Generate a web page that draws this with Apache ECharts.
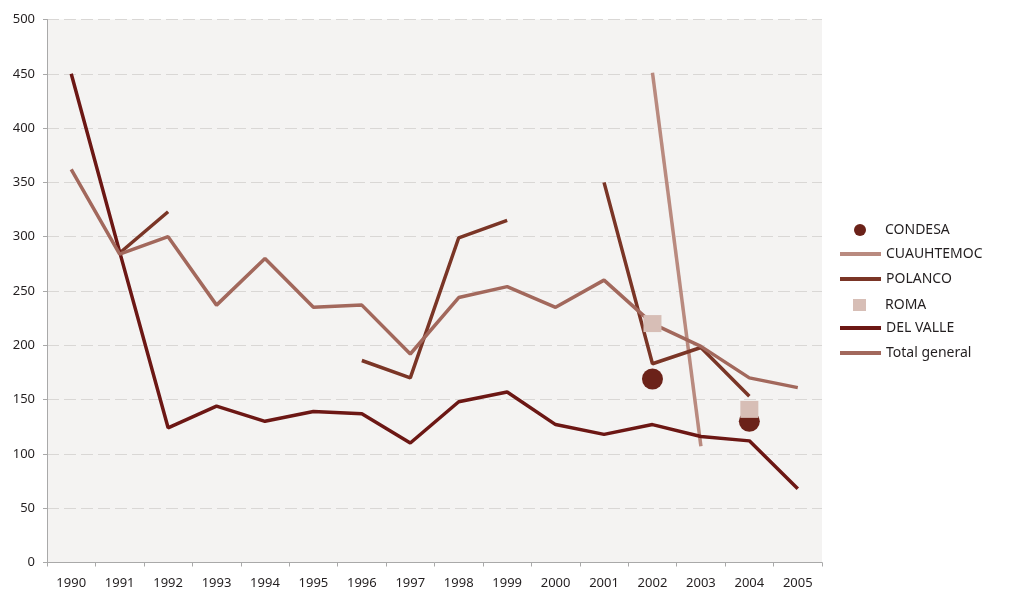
<!DOCTYPE html>
<html>
<head>
<meta charset="utf-8">
<script src="https://cdn.jsdelivr.net/npm/echarts@6/dist/echarts.min.js"></script>
<style>
html,body{margin:0;padding:0;background:#fff;}
#c{width:1024px;height:592px;}
</style>
</head>
<body>
<div id="c"></div>
<script>
var years = ['1990','1991','1992','1993','1994','1995','1996','1997','1998','1999','2000','2001','2002','2003','2004','2005'];
var yTicks = [0, 500, 50];
var condesa    = [null,null,null,null,null,null,null,null,null,null,null,null,169,null,130,null];
var cuauhtemoc = [null,null,null,null,null,null,null,null,null,null,null,null,451,107,null,null];
var polanco    = [null,285,323,null,null,null,186,170,299,315,null,350,183,198,153,null];
var roma       = [null,null,null,null,null,null,null,null,null,null,null,null,220,null,141,null];
var delValle   = [450,286,124,144,130,139,137,110,148,157,127,118,127,116,112,68];
var totalGen   = [362,284,300,237,280,235,237,192,244,254,235,260,220,199,170,161];

function pairs(arr){
  var out=[];
  arr.forEach(function(v,i){ if(v!==null) out.push([years[i], v]); });
  return out;
}

var FONT = 'Noto Sans';
var C = {
  condesa:'#6b2219', cuauh:'#b98a7f', polanco:'#7a3526', roma:'#d7beb6', delvalle:'#6c1714', total:'#a2685c'
};

function lineLegend(name, top){
  return {
    data:[name], left:840, top:top, orient:'vertical', icon:'rect',
    itemWidth:41, itemHeight:4, itemGap:0, padding:0,
    textStyle:{fontFamily:FONT, fontSize:14, color:'#231f20', lineHeight:16}
  };
}

var chart = echarts.init(document.getElementById('c'), null, {renderer:'canvas'});
chart.setOption({
  animation:false,
  backgroundColor:'#ffffff',
  grid:{left:47, right:202, top:19.5, bottom:29.5, show:true, backgroundColor:'#f4f3f2', borderWidth:0},
  legend:[
    {data:[{name:'CONDESA', icon:'circle'}], left:854, top:222, itemWidth:12, itemHeight:12, padding:0,
     textStyle:{fontFamily:FONT, fontSize:14, color:'#231f20', lineHeight:16, padding:[0,0,0,14]}},
    lineLegend('CUAUHTEMOC', 246),
    lineLegend('POLANCO', 271),
    {data:[{name:'ROMA', icon:'rect'}], left:853, top:297, itemWidth:13, itemHeight:12, padding:0,
     textStyle:{fontFamily:FONT, fontSize:14, color:'#231f20', lineHeight:16, padding:[0,0,0,14]}},
    lineLegend('DEL VALLE', 320),
    lineLegend('Total general', 345)
  ],
  xAxis:{
    type:'category', data:years, boundaryGap:true,
    axisLine:{lineStyle:{color:'#a9a9a9', width:1}},
    axisTick:{show:true, length:4, lineStyle:{color:'#a9a9a9'}, interval:0},
    axisLabel:{interval:0, margin:14, fontFamily:FONT, fontSize:13, color:'#231f20'},
    splitLine:{show:false}
  },
  yAxis:{
    type:'value', min:yTicks[0], max:yTicks[1], interval:yTicks[2],
    axisLine:{show:true, lineStyle:{color:'#a9a9a9', width:1}},
    axisTick:{show:true, length:4, lineStyle:{color:'#a9a9a9'}},
    axisLabel:{margin:12, fontFamily:FONT, fontSize:13, color:'#231f20'},
    splitLine:{show:true, lineStyle:{color:'#d9d7d5', width:1, type:[12,5]}}
  },
  series:[
    {name:'CONDESA', type:'scatter', data:pairs(condesa), symbol:'circle', symbolSize:21,
     itemStyle:{color:C.condesa, opacity:1}, z:3},
    {name:'CUAUHTEMOC', type:'line', data:cuauhtemoc, showSymbol:false, symbol:'none',
     lineStyle:{color:C.cuauh, width:3.5}, itemStyle:{color:C.cuauh}, z:3},
    {name:'POLANCO', type:'line', data:polanco, showSymbol:false, symbol:'none',
     lineStyle:{color:C.polanco, width:3.5}, itemStyle:{color:C.polanco}, z:3},
    {name:'ROMA', type:'scatter', data:pairs(roma), symbol:'rect', symbolSize:[18,17],
     itemStyle:{color:C.roma, opacity:1}, z:4},
    {name:'DEL VALLE', type:'line', data:delValle, showSymbol:false, symbol:'none',
     lineStyle:{color:C.delvalle, width:3.5}, itemStyle:{color:C.delvalle}, z:3},
    {name:'Total general', type:'line', data:totalGen, showSymbol:false, symbol:'none',
     lineStyle:{color:C.total, width:3.5}, itemStyle:{color:C.total}, z:3}
  ]
});
</script>
</body>
</html>
